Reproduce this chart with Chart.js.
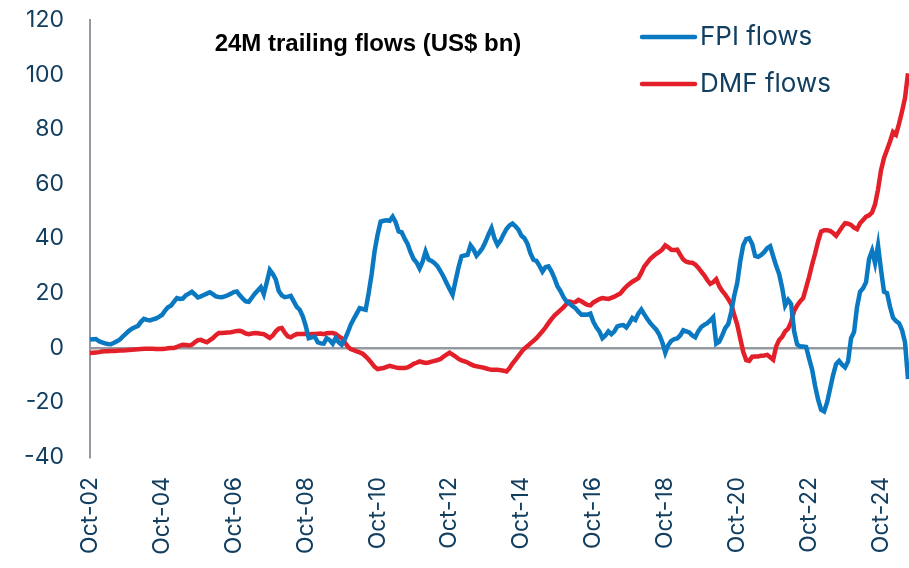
<!DOCTYPE html>
<html>
<head>
<meta charset="utf-8">
<script src="https://cdn.jsdelivr.net/npm/chart.js"></script>
<style>
  html, body { margin: 0; padding: 0; background: #fff; }
  #wrap { width: 909px; height: 568px; }
</style>
</head>
<body>
<div id="wrap"><canvas id="chart" width="909" height="568"></canvas></div>
<script>
// monthly, Oct-02 .. Jul-25
const months = ["Jan","Feb","Mar","Apr","May","Jun","Jul","Aug","Sep","Oct","Nov","Dec"];
const labels = [];
for (let i = 0; i < 274; i++) {
  const m = (9 + i) % 12;
  const y = 2 + Math.floor((9 + i) / 12);
  labels.push(months[m] + "-" + String(y).padStart(2, "0"));
}

const yTicks = [-40, -20, 0, 20, 40, 60, 80, 100, 120];

const fpiFlows = [
  3.0, 3.1, 3.2, 2.4, 2.0, 1.6, 1.4, 1.3, 1.8, 2.4, 3.0, 4.2, 5.2, 6.2, 7.0, 7.5, 8.0, 9.5, 10.6, 10.2,
  10.0, 10.4, 10.7, 11.3, 12.0, 13.5, 14.8, 15.4, 16.8, 18.2, 17.9, 18.0, 19.2, 19.8, 20.5, 19.5, 18.4, 18.8, 19.3, 19.8,
  20.3, 19.6, 18.8, 18.6, 18.5, 18.8, 19.2, 19.8, 20.4, 20.6, 19.2, 18.0, 17.0, 16.8, 18.3, 19.8, 21.0, 22.2, 19.6, 24.0,
  28.5, 27.0, 25.0, 20.8, 19.2, 18.5, 18.7, 19.0, 17.0, 15.0, 13.9, 11.5, 8.0, 3.5, 3.8, 4.1, 2.0, 1.6, 1.5, 3.5,
  2.8, 1.5, 3.6, 2.0, 1.1, 3.0, 5.5, 8.4, 10.5, 12.5, 14.5, 14.2, 13.9, 20.0, 27.0, 35.5, 41.5, 46.2, 46.5, 46.7,
  46.5, 48.0, 46.0, 42.6, 42.3, 40.0, 38.0, 35.0, 32.5, 31.2, 29.0, 31.5, 35.2, 32.3, 31.8, 31.0, 29.8, 28.0, 26.0, 23.7,
  21.5, 19.4, 24.5, 29.5, 33.5, 33.8, 34.0, 37.5, 36.0, 33.7, 35.0, 36.5, 38.8, 41.5, 43.8, 40.0, 37.7, 39.2, 41.5, 43.5,
  44.8, 45.5, 44.5, 43.2, 41.0, 40.1, 38.0, 34.5, 32.2, 31.8, 30.0, 27.9, 29.5, 29.8, 28.0, 25.5, 22.5, 20.8, 18.6, 17.0,
  16.2, 15.3, 14.5, 13.2, 12.1, 12.2, 12.1, 12.5, 9.5, 7.5, 6.0, 3.5, 4.5, 6.0, 5.0, 6.0, 7.8, 8.2, 8.3, 7.4,
  9.0, 10.9, 10.2, 12.5, 14.0, 12.2, 10.5, 9.0, 7.8, 6.6, 4.8, 2.0, -1.8, 1.0, 2.5, 3.2, 3.4, 4.5, 6.4, 6.0,
  5.6, 4.5, 3.8, 6.0, 7.6, 8.4, 9.0, 10.0, 11.2, 1.5, 2.2, 4.5, 7.2, 8.6, 13.0, 19.0, 23.7, 31.5, 37.5, 39.8,
  40.1, 38.0, 33.6, 33.3, 34.0, 35.0, 36.5, 37.2, 33.5, 30.0, 27.0, 22.0, 15.5, 17.5, 16.0, 6.0, 1.2, 0.5, 0.5, 0.3,
  -4.0, -8.0, -14.0, -19.0, -22.7, -23.3, -20.0, -15.0, -10.0, -6.0, -4.8, -6.2, -7.2, -5.0, 3.5, 5.8, 15.0, 20.5, 21.8, 24.0,
  32.5, 35.5, 31.0, 37.5, 28.5, 20.5, 20.0, 15.0, 11.0, 9.8, 9.0, 6.5, 2.0, -11.5
];

const dmfFlows = [
  -1.9, -1.8, -1.7, -1.6, -1.4, -1.3, -1.25, -1.2, -1.15, -1.1, -1.05, -1.0, -0.95, -0.85, -0.75, -0.65, -0.55, -0.45, -0.4, -0.4,
  -0.4, -0.4, -0.45, -0.5, -0.5, -0.4, -0.2, -0.1, -0.1, 0.3, 0.8, 1.1, 1.0, 0.8, 1.1, 2.0, 2.8, 2.9, 2.4, 2.0,
  2.8, 3.5, 4.6, 5.4, 5.4, 5.5, 5.6, 5.7, 5.9, 6.1, 6.2, 5.8, 5.2, 5.0, 5.2, 5.4, 5.3, 5.1, 5.0, 4.3,
  3.6, 4.5, 6.0, 7.0, 7.2, 5.5, 4.2, 3.8, 4.5, 5.0, 5.0, 5.0, 5.1, 4.9, 5.0, 5.0, 5.1, 5.2, 5.0, 5.3,
  5.4, 5.4, 5.0, 4.2, 3.5, 2.0, 0.5, -0.5, -0.9, -1.3, -1.7, -2.2, -3.2, -4.3, -5.6, -7.0, -7.8, -7.6, -7.4, -7.0,
  -6.6, -6.9, -7.2, -7.4, -7.4, -7.4, -7.2, -6.6, -5.9, -5.5, -5.0, -5.3, -5.6, -5.4, -5.1, -4.8, -4.5, -4.1, -3.2, -2.5,
  -1.8, -2.5, -3.2, -4.1, -4.6, -5.0, -5.4, -6.0, -6.5, -6.8, -7.0, -7.2, -7.5, -7.8, -8.1, -8.1, -8.1, -8.2, -8.4, -8.7,
  -7.5, -5.8, -4.4, -3.0, -1.5, -0.3, 0.6, 1.6, 2.5, 3.5, 4.8, 6.0, 7.4, 9.0, 10.5, 11.8, 12.8, 13.8, 14.8, 16.0,
  16.9, 16.6, 16.7, 17.5, 17.0, 16.3, 15.7, 15.5, 16.6, 17.2, 17.8, 18.2, 18.0, 17.9, 18.3, 18.7, 19.3, 19.9, 21.2, 22.4,
  23.3, 24.2, 24.8, 25.5, 27.5, 29.8, 31.2, 32.6, 33.5, 34.4, 35.1, 36.0, 37.5, 36.8, 35.9, 35.8, 35.9, 34.0, 32.3, 31.5,
  31.2, 31.1, 30.5, 29.3, 27.9, 26.5, 24.8, 23.4, 24.0, 25.1, 22.5, 20.8, 19.5, 17.8, 16.0, 12.0, 8.5, 3.5, -1.5, -4.5,
  -4.8, -3.3, -3.2, -3.2, -2.9, -2.8, -2.6, -3.5, -4.4, 0.5, 2.8, 4.0, 6.0, 7.0, 9.5, 13.5, 15.5, 17.0, 18.2, 22.0,
  26.0, 30.5, 34.5, 39.0, 42.5, 43.0, 43.0, 42.8, 42.0, 41.0, 42.6, 44.2, 45.6, 45.4, 45.0, 44.0, 43.4, 45.6, 46.8, 48.0,
  48.5, 49.5, 52.5, 58.0, 65.0, 69.5, 72.5, 75.5, 79.0, 78.0, 82.0, 86.5, 91.4, 100.5
];

const seriesNames = ["FPI flows", "DMF flows"];
const chartTitle = "24M trailing flows (US$ bn)";

const navy = "#123e60";
const axisGray = "#959aa2";

// titulo + leyenda a mano, como en el original
const overlay = {
  id: "overlay",
  afterDraw(chart) {
    const ctx = chart.ctx;
    ctx.save();
    ctx.fillStyle = "#000";
    ctx.font = "bold 24px 'Liberation Sans', Arial, sans-serif";
    ctx.textAlign = "center";
    ctx.textBaseline = "middle";
    ctx.fillText(chartTitle, 368, 44);

    chart.data.datasets.forEach((ds, i) => {
      const y = 37 + i * 47;
      ctx.strokeStyle = ds.borderColor;
      ctx.lineWidth = 4.5;
      ctx.lineCap = "round";
      ctx.beginPath();
      ctx.moveTo(642, y);
      ctx.lineTo(695, y);
      ctx.stroke();
      ctx.fillStyle = navy;
      ctx.font = "26px Inter, sans-serif";
      ctx.textAlign = "left";
      ctx.fillText(ds.label, 700, y);
    });
    ctx.restore();
  }
};

new Chart(document.getElementById("chart"), {
  type: "line",
  data: {
    labels: labels,
    datasets: [
      {
        label: seriesNames[0],
        data: fpiFlows,
        borderColor: "#0a79c1",
        borderWidth: 4.5,
        pointRadius: 0,
        tension: 0
      },
      {
        label: seriesNames[1],
        data: dmfFlows,
        borderColor: "#e3202a",
        borderWidth: 4.5,
        pointRadius: 0,
        tension: 0
      }
    ]
  },
  options: {
    responsive: false,
    animation: false,
    layout: { padding: { top: 20, right: 1, left: 0, bottom: 0 } },
    plugins: {
      legend: { display: false },
      tooltip: { enabled: false }
    },
    scales: {
      x: {
        grid: { display: false, drawTicks: false },
        border: { display: false },
        afterFit: (s) => { s.height = 111; s.paddingLeft = 0; s.paddingRight = 0; },
        ticks: {
          autoSkip: false,
          minRotation: 90,
          maxRotation: 90,
          padding: 20,
          color: navy,
          font: { family: "Inter", size: 23 },
          callback: function (v, i) { return i % 24 === 0 ? labels[i] : ""; }
        }
      },
      y: {
        min: -40,
        max: 120,
        afterFit: (s) => { s.width = 90; s.paddingTop = 0; s.paddingBottom = 0; },
        afterBuildTicks: (s) => { s.ticks = yTicks.map(v => ({ value: v })); },
        grid: {
          drawTicks: false,
          lineWidth: 2.5,
          color: (c) => c.tick && c.tick.value === 0 ? axisGray : "rgba(0,0,0,0)"
        },
        border: { display: true, color: axisGray, width: 2 },
        ticks: {
          padding: 26,
          color: navy,
          font: { family: "Inter", size: 23 }
        }
      }
    }
  },
  plugins: [overlay]
});
</script>
</body>
</html>
